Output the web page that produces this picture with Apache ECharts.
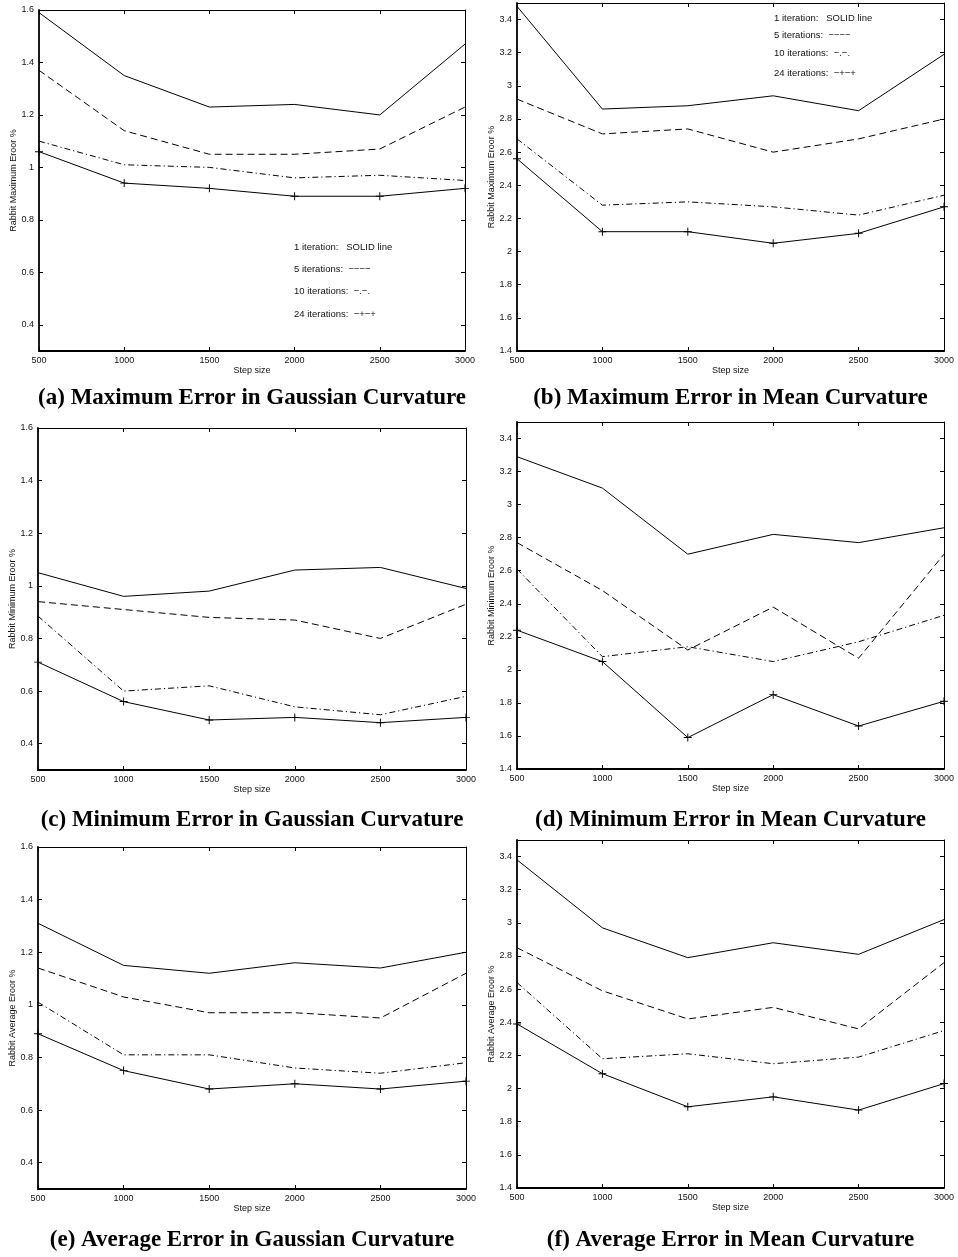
<!DOCTYPE html>
<html>
<head>
<meta charset="utf-8">
<script src="https://cdn.jsdelivr.net/npm/echarts@6/dist/echarts.min.js"></script>
<style>
html,body{margin:0;padding:0;background:#fff;}
#c{width:958px;height:1257px;}
</style>
</head>
<body>
<div id="c"></div>
<script>
// ---- data ----
const steps = [500, 1000, 1500, 2000, 2500, 3000];
const stepTicks = [500, 1000, 1500, 2000, 2500, 3000];
const gaussTicks = [0.4, 0.6, 0.8, 1, 1.2, 1.4, 1.6];
const meanTicks = [1.4, 1.6, 1.8, 2, 2.2, 2.4, 2.6, 2.8, 3, 3.2, 3.4];

// (a) Maximum error, Gaussian curvature
const gaussMax1  = [1.59, 1.35, 1.23, 1.24, 1.20, 1.47];
const gaussMax5  = [1.37, 1.14, 1.05, 1.05, 1.07, 1.23];
const gaussMax10 = [1.10, 1.01, 1.00, 0.96, 0.97, 0.95];
const gaussMax24 = [1.06, 0.94, 0.92, 0.89, 0.89, 0.92];
// (b) Maximum error, Mean curvature
const meanMax1  = [3.48, 2.86, 2.88, 2.94, 2.85, 3.19];
const meanMax5  = [2.92, 2.71, 2.74, 2.60, 2.68, 2.80];
const meanMax10 = [2.68, 2.28, 2.30, 2.27, 2.22, 2.34];
const meanMax24 = [2.56, 2.12, 2.12, 2.05, 2.11, 2.27];
// (c) Minimum error, Gaussian curvature
const gaussMin1  = [1.05, 0.96, 0.98, 1.06, 1.07, 0.99];
const gaussMin5  = [0.94, 0.91, 0.88, 0.87, 0.80, 0.93];
const gaussMin10 = [0.885, 0.60, 0.62, 0.54, 0.51, 0.58];
const gaussMin24 = [0.71, 0.56, 0.49, 0.50, 0.48, 0.50];
// (d) Minimum error, Mean curvature
const meanMin1  = [3.29, 3.10, 2.70, 2.82, 2.77, 2.86];
const meanMin5  = [2.77, 2.48, 2.12, 2.38, 2.07, 2.70];
const meanMin10 = [2.61, 2.08, 2.14, 2.05, 2.17, 2.33];
const meanMin24 = [2.24, 2.05, 1.59, 1.85, 1.66, 1.81];
// (e) Average error, Gaussian curvature
const gaussAvg1  = [1.31, 1.15, 1.12, 1.16, 1.14, 1.20];
const gaussAvg5  = [1.14, 1.03, 0.97, 0.97, 0.95, 1.12];
const gaussAvg10 = [1.01, 0.81, 0.81, 0.76, 0.74, 0.78];
const gaussAvg24 = [0.89, 0.75, 0.68, 0.70, 0.68, 0.71];
// (f) Average error, Mean curvature
const meanAvg1  = [3.38, 2.97, 2.79, 2.88, 2.81, 3.02];
const meanAvg5  = [2.85, 2.59, 2.42, 2.49, 2.36, 2.76];
const meanAvg10 = [2.64, 2.18, 2.21, 2.15, 2.19, 2.35];
const meanAvg24 = [2.39, 2.09, 1.89, 1.95, 1.87, 2.03];

const legendLines = ['1 iteration:   SOLID line', '5 iterations:  \u2212\u2212\u2212\u2212', '10 iterations:  \u2212.\u2212.', '24 iterations:  \u2212+\u2212+'];

const panels = [
  {grid:{left:39,top:10,width:426,height:341}, min:0.3, max:1.6, ticks:gaussTicks, yName:'Rabbit Maximum Eroor %', title:'(a) Maximum Error in Gaussian Curvature', ty:398, s:[gaussMax1,gaussMax5,gaussMax10,gaussMax24], legend:{x:294,y:[247,269,291,314]}},
  {grid:{left:517,top:3,width:427,height:348}, min:1.4, max:3.5, ticks:meanTicks, yName:'Rabbit Maximum Eroor %', title:'(b) Maximum Error in Mean Curvature', ty:398, s:[meanMax1,meanMax5,meanMax10,meanMax24], legend:{x:774,y:[18,35,53,73]}},
  {grid:{left:38,top:428,width:428,height:342}, min:0.3, max:1.6, ticks:gaussTicks, yName:'Rabbit Minimum Eroor %', title:'(c) Minimum Error in Gaussian Curvature', ty:820, s:[gaussMin1,gaussMin5,gaussMin10,gaussMin24]},
  {grid:{left:517,top:422,width:427,height:347}, min:1.4, max:3.5, ticks:meanTicks, yName:'Rabbit Minimum Eroor %', title:'(d) Minimum Error in Mean Curvature', ty:820, s:[meanMin1,meanMin5,meanMin10,meanMin24]},
  {grid:{left:38,top:847,width:428,height:342}, min:0.3, max:1.6, ticks:gaussTicks, yName:'Rabbit Average Eroor %', title:'(e) Average Error in Gaussian Curvature', ty:1240, s:[gaussAvg1,gaussAvg5,gaussAvg10,gaussAvg24]},
  {grid:{left:517,top:840,width:427,height:348}, min:1.4, max:3.5, ticks:meanTicks, yName:'Rabbit Average Eroor %', title:'(f) Average Error in Mean Curvature', ty:1240, s:[meanAvg1,meanAvg5,meanAvg10,meanAvg24]}
];

const SANS = "'Liberation Sans', Arial, Helvetica, sans-serif";
const SERIF = "'Liberation Serif', 'Times New Roman', serif";
const plusPath = 'path://M-0.12,-1L0.12,-1L0.12,-0.12L1,-0.12L1,0.12L0.12,0.12L0.12,1L-0.12,1L-0.12,0.12L-1,0.12L-1,-0.12L-0.12,-0.12Z';

const grids = [], xAxes = [], yAxes = [], series = [], graphics = [];
panels.forEach((p, i) => {
  grids.push(Object.assign({containLabel:false, show:false}, p.grid));
  const xCommon = {type:'value', gridIndex:i, min:500, max:3000, interval:500, splitLine:{show:false}};
  xAxes.push(Object.assign({}, xCommon, {
    position:'bottom',
    axisLine:{show:true, onZero:false, lineStyle:{color:'#000', width:1.8}},
    axisTick:{show:true, inside:true, length:4, lineStyle:{color:'#000', width:1}, customValues:stepTicks},
    axisLabel:{show:true, margin:5, color:'#111', fontSize:9, fontFamily:SANS, customValues:stepTicks,
      formatter:v => String(v)},
    name:'Step size', nameLocation:'middle', nameGap:15,
    nameTextStyle:{color:'#111', fontSize:9, fontFamily:SANS}
  }));
  xAxes.push(Object.assign({}, xCommon, {
    position:'top',
    axisLine:{show:true, onZero:false, lineStyle:{color:'#000', width:1}},
    axisTick:{show:true, inside:true, length:4, lineStyle:{color:'#000', width:1}, customValues:stepTicks},
    axisLabel:{show:false}
  }));
  const yCommon = {type:'value', gridIndex:i, min:p.min, max:p.max, splitLine:{show:false}};
  yAxes.push(Object.assign({}, yCommon, {
    position:'left',
    axisLine:{show:true, onZero:false, lineStyle:{color:'#000', width:1.8}},
    axisTick:{show:true, inside:true, length:4, lineStyle:{color:'#000', width:1}, customValues:p.ticks},
    axisLabel:{show:true, margin:5, color:'#111', fontSize:9, fontFamily:SANS, customValues:p.ticks,
      formatter:v => String(Math.round(v * 10) / 10)},
    name:p.yName, nameLocation:'middle', nameGap:21,
    nameTextStyle:{color:'#111', fontSize:9, fontFamily:SANS}
  }));
  yAxes.push(Object.assign({}, yCommon, {
    position:'right',
    axisLine:{show:true, onZero:false, lineStyle:{color:'#000', width:1}},
    axisTick:{show:true, inside:true, length:4, lineStyle:{color:'#000', width:1}, customValues:p.ticks},
    axisLabel:{show:false}
  }));
  const styles = [
    {type:'solid'},
    {type:[7,4]},
    {type:[6,3,1.2,3]},
    {type:'solid'}
  ];
  p.s.forEach((vals, k) => {
    const isPlus = k === 3;
    series.push({
      type:'line',
      xAxisIndex:2*i, yAxisIndex:2*i,
      data: steps.map((x, j) => [x, vals[j]]),
      showSymbol:isPlus,
      symbol:isPlus ? plusPath : 'none',
      symbolSize:8,
      itemStyle:{color:'#000'},
      lineStyle:Object.assign({color:'#000', width:1}, styles[k]),
      silent:true,
      animation:false,
      clip:false,
      z:3
    });
  });
  const cx = p.grid.left + p.grid.width / 2;
  graphics.push({
    type:'text',
    style:{text:p.title, x:cx, y:p.ty, align:'center', verticalAlign:'middle',
      font:'bold 23px ' + SERIF, fill:'#000'}
  });
  if (p.legend) {
    legendLines.forEach((t, k) => {
      graphics.push({
        type:'text',
        style:{text:t, x:p.legend.x, y:p.legend.y[k], align:'left', verticalAlign:'middle',
          font:'9.5px ' + SANS, fill:'#111'}
      });
    });
  }
});

const chart = echarts.init(document.getElementById('c'), null, {renderer:'canvas'});
chart.setOption({
  backgroundColor:'#fff',
  animation:false,
  grid:grids,
  xAxis:xAxes,
  yAxis:yAxes,
  series:series,
  graphic:graphics
});
</script>
</body>
</html>
